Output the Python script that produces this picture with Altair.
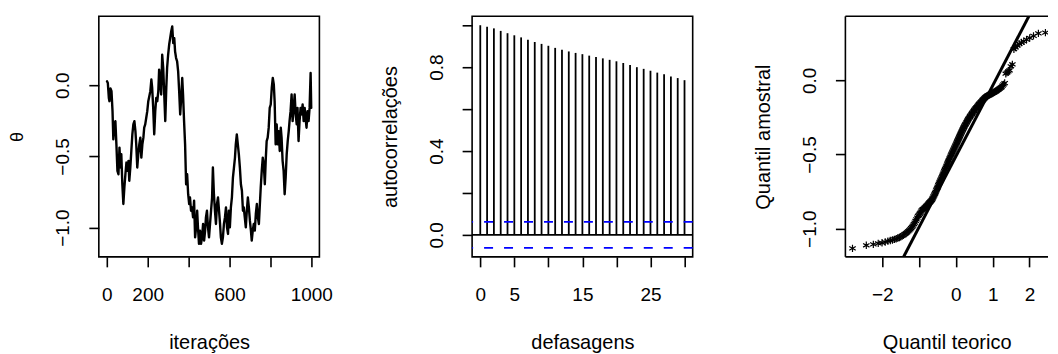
import altair as alt
import pandas as pd

# ---------------- data ----------------
# trace plot (iteration, theta)
iters = [1, 5, 10, 13, 18, 23, 28, 32, 37, 42,
         47, 52, 57, 62, 67, 71, 76, 81, 86, 91,
         96, 101, 106, 110, 115, 120, 125, 130, 135, 140,
         144, 149, 154, 159, 164, 169, 174, 179, 183, 188,
         193, 198, 203, 208, 213, 218, 222, 227, 232, 237,
         242, 247, 252, 256, 261, 266, 271, 276, 281, 286,
         291, 295, 300, 305, 310, 315, 320, 325, 330, 334,
         339, 344, 349, 354, 359, 364, 369, 373, 378, 383,
         388, 393, 398, 403, 407, 412, 417, 422, 427, 432,
         437, 442, 446, 451, 456, 461, 466, 471, 476, 481,
         485, 490, 495, 500, 505, 510, 515, 519, 524, 529,
         534, 539, 544, 549, 554, 558, 563, 568, 573, 578,
         583, 588, 593, 597, 602, 607, 612, 617, 622, 627,
         631, 636, 641, 646, 651, 656, 661, 666, 670, 675,
         680, 685, 690, 695, 700, 705, 709, 714, 719, 724,
         729, 734, 739, 744, 748, 753, 758, 763, 768, 773,
         778, 782, 787, 792, 797, 802, 807, 812, 817, 821,
         826, 831, 836, 841, 846, 851, 855, 860, 865, 870,
         875, 880, 885, 890, 894, 899, 904, 909, 914, 919,
         924, 929, 933, 938, 943, 948, 953, 958, 963, 968,
         972, 977, 982, 987, 992, 997, 1000]
theta = [0.028, 0.016, -0.089, -0.112, -0.023, -0.042, -0.182, -0.380, -0.275, -0.252,
         -0.415, -0.601, -0.625, -0.438, -0.578, -0.485, -0.695, -0.834, -0.718, -0.625,
         -0.543, -0.601, -0.531, -0.671, -0.578, -0.462, -0.345, -0.275, -0.252, -0.322,
         -0.415, -0.578, -0.485, -0.415, -0.368, -0.508, -0.415, -0.368, -0.298, -0.275,
         -0.228, -0.182, -0.112, -0.077, -0.042, 0.040, -0.019, -0.159, -0.345, -0.182,
         -0.089, -0.112, -0.042, 0.110, 0.028, -0.065, 0.214, 0.121, -0.065, -0.252,
         -0.019, 0.121, 0.214, 0.284, 0.331, 0.378, 0.413, 0.296, 0.331, 0.238,
         0.191, 0.168, 0.098, -0.042, -0.205, -0.089, 0.051, -0.065, -0.252, -0.415,
         -0.695, -0.625, -0.765, -0.834, -0.788, -0.881, -0.858, -0.928, -0.811, -1.068,
         -0.998, -0.881, -0.998, -1.114, -1.021, -1.114, -1.068, -0.974, -1.091, -1.021,
         -0.928, -0.881, -0.998, -1.068, -0.974, -0.881, -0.788, -0.578, -0.765, -0.881,
         -0.974, -0.834, -0.788, -0.881, -0.974, -1.068, -1.114, -1.068, -0.974, -0.928,
         -0.858, -0.998, -1.044, -0.881, -0.998, -0.858, -0.788, -0.648, -0.578, -0.508,
         -0.415, -0.345, -0.415, -0.485, -0.578, -0.695, -0.741, -0.881, -0.858, -0.928,
         -0.998, -0.881, -0.788, -0.858, -0.951, -1.021, -1.091, -1.021, -0.974, -1.021,
         -0.904, -0.834, -0.928, -0.974, -0.858, -0.718, -0.601, -0.508, -0.555, -0.695,
         -0.508, -0.392, -0.368, -0.298, -0.159, -0.135, -0.019, 0.051, 0.005, -0.112,
         -0.415, -0.275, -0.415, -0.322, -0.462, -0.298, -0.368, -0.531, -0.601, -0.765,
         -0.648, -0.485, -0.392, -0.322, -0.252, -0.182, -0.065, -0.252, -0.159, -0.065,
         -0.205, -0.275, -0.159, -0.392, -0.252, -0.159, -0.205, -0.135, -0.252, -0.159,
         -0.228, -0.298, -0.182, -0.252, -0.159, 0.086, -0.159]

# autocorrelation function
acf_lags = [0, 1, 2, 3, 4, 5, 6, 7, 8, 9, 10, 11, 12, 13, 14, 15,
            16, 17, 18, 19, 20, 21, 22, 23, 24, 25, 26, 27, 28, 29, 30]
acf_vals = [1.000, 0.993, 0.985, 0.973, 0.962, 0.952, 0.942, 0.931, 0.920, 0.911,
            0.902, 0.892, 0.883, 0.875, 0.868, 0.862, 0.855, 0.848, 0.842, 0.835,
            0.828, 0.820, 0.810, 0.800, 0.792, 0.783, 0.774, 0.766, 0.756, 0.748, 0.738]
acf_limits = [0.062, -0.062]

# normal QQ plot: sorted sample quantiles (200 points)
qq_sample = [-1.133, -1.112, -1.106, -1.099, -1.095, -1.090, -1.084, -1.080, -1.076, -1.072,
             -1.068, -1.063, -1.059, -1.054, -1.048, -1.043, -1.037, -1.031, -1.025, -1.018,
             -1.012, -1.004, -0.996, -0.988, -0.979, -0.970, -0.959, -0.948, -0.937, -0.926,
             -0.915, -0.908, -0.900, -0.893, -0.885, -0.877, -0.872, -0.868, -0.864, -0.860,
             -0.856, -0.851, -0.847, -0.842, -0.837, -0.832, -0.828, -0.823, -0.819, -0.814,
             -0.810, -0.805, -0.798, -0.790, -0.782, -0.775, -0.767, -0.760, -0.751, -0.742,
             -0.734, -0.725, -0.716, -0.707, -0.698, -0.690, -0.683, -0.675, -0.667, -0.660,
             -0.652, -0.644, -0.636, -0.628, -0.620, -0.612, -0.604, -0.598, -0.590, -0.582,
             -0.574, -0.566, -0.558, -0.550, -0.543, -0.536, -0.528, -0.521, -0.514, -0.506,
             -0.499, -0.492, -0.485, -0.479, -0.472, -0.465, -0.458, -0.452, -0.445, -0.438,
             -0.431, -0.424, -0.417, -0.410, -0.403, -0.396, -0.389, -0.382, -0.375, -0.368,
             -0.361, -0.354, -0.347, -0.341, -0.334, -0.328, -0.321, -0.315, -0.308, -0.302,
             -0.296, -0.291, -0.285, -0.279, -0.273, -0.268, -0.262, -0.257, -0.252, -0.246,
             -0.241, -0.236, -0.231, -0.226, -0.221, -0.216, -0.211, -0.206, -0.201, -0.196,
             -0.191, -0.187, -0.182, -0.178, -0.173, -0.168, -0.164, -0.159, -0.155, -0.150,
             -0.146, -0.141, -0.137, -0.132, -0.128, -0.123, -0.119, -0.114, -0.111, -0.108,
             -0.105, -0.102, -0.099, -0.097, -0.095, -0.092, -0.090, -0.088, -0.085, -0.082,
             -0.079, -0.076, -0.072, -0.068, -0.064, -0.061, -0.056, -0.050, -0.045, -0.036,
             -0.027, -0.018, 0.045, 0.052, 0.060, 0.067, 0.095, 0.108, 0.210, 0.222,
             0.235, 0.246, 0.255, 0.263, 0.275, 0.286, 0.300, 0.317, 0.322, 0.366]
qq_line_intercept = -0.513
qq_line_slope = 0.477

# ---------------- styling ----------------
FONT = "Liberation Sans"
W, H = 221, 241
W3 = 203                      # third panel is cut by the right edge of the page
QQ_UNIT = 221 / 5.99          # pixels per theoretical-quantile unit
LAB = 19
TIT = 20
STAR = "M0,-1L0,1M-0.87,-0.5L0.87,0.5M-0.87,0.5L0.87,-0.5"


def x_axis(values, title, label_expr, fmt):
    return alt.Axis(values=values, title=title, format=fmt, labelExpr=label_expr,
                    tickSize=10, tickWidth=1.6, tickColor="black",
                    labelPadding=19, labelFontSize=LAB, labelFont=FONT, labelColor="black",
                    labelOverlap=False, labelFlush=False,
                    titleFontSize=TIT, titleFont=FONT, titleFontWeight="normal",
                    titleColor="black", titleY=92, titleBaseline="alphabetic",
                    domain=False, grid=False)


def y_axis(values, title, label_expr=None, title_size=TIT, title_x=-76):
    kw = dict(values=values, title=title, format=".1f",
              tickSize=10, tickWidth=1.6, tickColor="black",
              labelAngle=270, labelAlign="center", labelBaseline="middle",
              labelPadding=26, labelFontSize=LAB, labelFont=FONT, labelColor="black",
              labelOverlap=False, labelFlush=False,
              titleFontSize=title_size, titleFont=FONT, titleFontWeight="normal",
              titleColor="black", titleX=title_x, titleY=H / 2, titleAngle=270,
              titleAlign="center", titleBaseline="alphabetic",
              domain=False, grid=False)
    if label_expr:
        kw["labelExpr"] = label_expr
    return alt.Axis(**kw)


# ---------------- panel 1: trace ----------------
trace_df = pd.DataFrame({"iter": iters, "theta": theta})
p1 = alt.Chart(trace_df).mark_line(
    color="black", strokeWidth=2.4, strokeJoin="round", strokeCap="round", clip=True
).encode(
    x=alt.X("iter:Q", scale=alt.Scale(domain=[-39, 1040], nice=False, zero=False),
            axis=x_axis([0, 200, 400, 600, 800, 1000], "iterações",
                        "datum.value == 400 || datum.value == 800 ? '' : datum.label", "d")),
    y=alt.Y("theta:Q", scale=alt.Scale(domain=[-1.205, 0.484], nice=False, zero=False),
            axis=y_axis([-1.0, -0.5, 0.0], "θ", title_size=18, title_x=-76.5)),
).properties(width=W, height=H)

# ---------------- panel 2: ACF ----------------
acf_df = pd.DataFrame({"lag": acf_lags, "acf": acf_vals})
x2 = alt.X("lag:Q", scale=alt.Scale(domain=[-1.2, 31.2], nice=False, zero=False),
           axis=x_axis([0, 5, 10, 15, 20, 25, 30], "defasagens",
                       "indexof([0, 5, 15, 25], datum.value) >= 0 ? datum.label : ''", "d"))
y2 = alt.Y("acf:Q", scale=alt.Scale(domain=[-0.1045, 1.0425], nice=False, zero=False),
           axis=y_axis([0.0, 0.2, 0.4, 0.6, 0.8, 1.0], "autocorrelações",
                       "indexof([0, 0.4, 0.8], datum.value) >= 0 ? format(datum.value, '.1f') : ''"))
bars = alt.Chart(acf_df).mark_rule(color="black", strokeWidth=1.8).encode(
    x=x2, y=y2, y2=alt.datum(0)
)
zero_line = alt.Chart(pd.DataFrame({"acf": [0.0]})).mark_rule(
    color="black", strokeWidth=1.8).encode(y=y2)
lim_lines = alt.Chart(pd.DataFrame({"acf": acf_limits})).mark_rule(
    color="#0000FF", strokeWidth=1.8, strokeDash=[9, 11]).encode(y=y2)
p2 = alt.layer(bars, zero_line, lim_lines).properties(width=W, height=H)

# ---------------- panel 3: normal QQ ----------------
qq_df = pd.DataFrame({"sample": qq_sample})
x3_dom = [-3.0, -3.0 + W3 / QQ_UNIT]
x3 = alt.X("theor:Q", scale=alt.Scale(domain=x3_dom, nice=False, zero=False),
           axis=x_axis([-2, -1, 0, 1, 2], "Quantil teorico",
                       "datum.value == -1 ? '' : datum.label", "d"))
y3 = alt.Y("sample:Q", scale=alt.Scale(domain=[-1.19, 0.432], nice=False, zero=False),
           axis=y_axis([-1.0, -0.5, 0.0], "Quantil amostral"))
pts = alt.Chart(qq_df).transform_window(
    rank="row_number()", sort=[alt.SortField("sample", order="ascending")]
).transform_joinaggregate(
    n="count()"
).transform_calculate(
    theor="quantileNormal((datum.rank - 0.5) / datum.n)"
).mark_point(
    shape=STAR, size=55, filled=False, color="black", strokeWidth=1.2, opacity=1, clip=True
).encode(x=x3, y=y3)

line_x = [-3.0, 3.0]
line_df = pd.DataFrame({"theor": line_x,
                        "sample": [qq_line_intercept + qq_line_slope * v for v in line_x]})
qq_line = alt.Chart(line_df).mark_line(color="black", strokeWidth=3, clip=True).encode(x=x3, y=y3)

# frame of the third panel (its right side lies outside the page)
frame_df = pd.DataFrame({"k": [0]})
frame_top = alt.Chart(frame_df).mark_rule(color="black", strokeWidth=1.6).encode(
    x=alt.value(0), x2=alt.value(W3), y=alt.value(0))
frame_bottom = alt.Chart(frame_df).mark_rule(color="black", strokeWidth=1.6).encode(
    x=alt.value(0), x2=alt.value(W3), y=alt.value(H))
frame_left = alt.Chart(frame_df).mark_rule(color="black", strokeWidth=1.6).encode(
    x=alt.value(0), y=alt.value(0), y2=alt.value(H))

p3 = alt.layer(pts, qq_line, frame_top, frame_bottom, frame_left).properties(
    width=W3, height=H, view=alt.ViewBackground(stroke="transparent"))

chart = alt.hconcat(p1, p2, p3, spacing=153, bounds="flush").configure_view(
    stroke="black", strokeWidth=1.6
).properties(
    padding={"left": -1, "top": 6, "right": 0, "bottom": 0},
    background="white",
)

chart.save("out.html", embed_options={"renderer": "svg", "actions": False})
